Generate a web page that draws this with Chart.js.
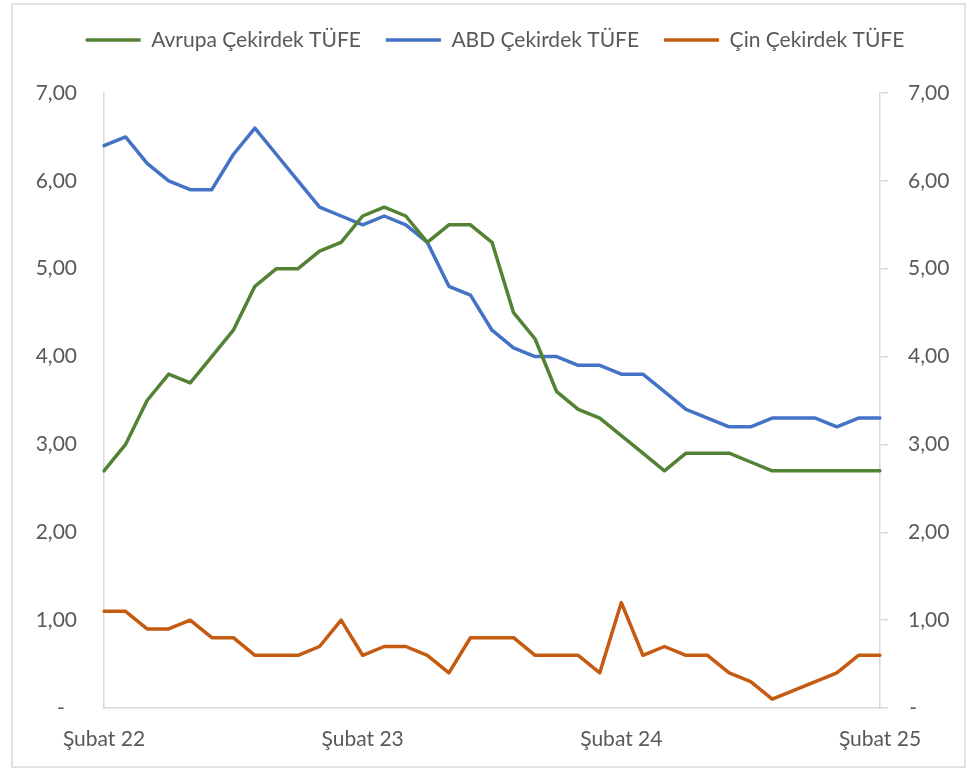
<!DOCTYPE html>
<html>
<head>
<meta charset="utf-8">
<script src="https://cdn.jsdelivr.net/npm/chart.js@4"></script>
<style>
  body { margin: 0; background: #fff; }
</style>
</head>
<body>
<canvas id="chart" width="970" height="769"></canvas>
<script>
var aylar = ["Ocak", "Şubat", "Mart", "Nisan", "Mayıs", "Haziran", "Temmuz", "Ağustos", "Eylül", "Ekim", "Kasım", "Aralık"];
var etiketler = [];
for (var i = 0; i < 37; i++) {
    var m = (1 + i) % 12;
    var y = 22 + Math.floor((1 + i) / 12);
    etiketler.push(aylar[m] + " " + y);
}

var avrupa = [2.7, 3.0, 3.5, 3.8, 3.7, 4.0, 4.3, 4.8, 5.0, 5.0, 5.2, 5.3, 5.6, 5.7, 5.6, 5.3, 5.5, 5.5, 5.3, 4.5,
              4.2, 3.6, 3.4, 3.3, 3.1, 2.9, 2.7, 2.9, 2.9, 2.9, 2.8, 2.7, 2.7, 2.7, 2.7, 2.7, 2.7];
var abd = [6.4, 6.5, 6.2, 6.0, 5.9, 5.9, 6.3, 6.6, 6.3, 6.0, 5.7, 5.6, 5.5, 5.6, 5.5, 5.3, 4.8, 4.7, 4.3, 4.1,
           4.0, 4.0, 3.9, 3.9, 3.8, 3.8, 3.6, 3.4, 3.3, 3.2, 3.2, 3.3, 3.3, 3.3, 3.2, 3.3, 3.3];
var cin = [1.1, 1.1, 0.9, 0.9, 1.0, 0.8, 0.8, 0.6, 0.6, 0.6, 0.7, 1.0, 0.6, 0.7, 0.7, 0.6, 0.4, 0.8, 0.8, 0.8,
           0.6, 0.6, 0.6, 0.4, 1.2, 0.6, 0.7, 0.6, 0.6, 0.4, 0.3, 0.1, 0.2, 0.3, 0.4, 0.6, 0.6];

var yaziRengi = '#595959';
var eksenRengi = '#d9d9d9';
var font = { family: 'Lato', size: 21 };

function solFormat(v) {
    return v === 0 ? '-\u2007' : v.toFixed(2).replace('.', ',');
}
function sagFormat(v) {
    return v === 0 ? '\u200a-' : v.toFixed(2).replace('.', ',');
}

var cerceve = {
    id: 'cerceve',
    beforeDraw: function(chart) {
        var c = chart.ctx;
        c.save();
        c.fillStyle = '#fff';
        c.fillRect(0, 0, chart.width, chart.height);
        c.strokeStyle = '#d9d9d9';
        c.lineWidth = 1.5;
        c.strokeRect(12, 4, 953, 763);
        c.restore();
    }
};

function cizgi(label, data, renk) {
    return {
        label: label,
        data: data,
        borderColor: renk,
        backgroundColor: renk,
        borderWidth: 3.5,
        pointRadius: 0,
        tension: 0,
        borderJoinStyle: 'round',
        borderCapStyle: 'round',
        fill: false
    };
}

var ctx = document.getElementById("chart");
var myChart = new Chart(ctx, {
    type: 'line',
    data: {
        labels: etiketler,
        datasets: [
            cizgi('Avrupa Çekirdek TÜFE', avrupa, '#548235'),
            cizgi('ABD Çekirdek TÜFE', abd, '#4472C4'),
            cizgi('Çin Çekirdek TÜFE', cin, '#C55A11')
        ]
    },
    plugins: [cerceve],
    options: {
        responsive: false,
        animation: false,
        layout: { padding: { top: 4.5, left: 20, right: 0, bottom: 0 } },
        plugins: {
            legend: {
                position: 'top',
                labels: {
                    usePointStyle: true,
                    pointStyle: 'line',
                    pointStyleWidth: 55,
                    padding: 25,
                    color: yaziRengi,
                    font: font
                }
            },
            tooltip: { enabled: false }
        },
        scales: {
            x: {
                offset: false,
                grid: { display: false, drawTicks: false },
                border: { display: true, color: eksenRengi, width: 1.5 },
                ticks: {
                    autoSkip: false,
                    maxRotation: 0,
                    padding: 19,
                    color: yaziRengi,
                    font: font,
                    callback: function(v, i) { return i % 12 === 0 ? etiketler[i] : null; }
                },
                afterFit: function(s) { s.height = 61; }
            },
            x2: {
                position: 'top',
                grid: { display: false, drawTicks: false },
                border: { display: false },
                ticks: { display: false },
                afterFit: function(s) { s.height = 32.5; }
            },
            y: {
                position: 'left',
                min: 0,
                max: 7,
                grid: { display: false, drawTicks: false },
                border: { display: true, color: eksenRengi, width: 1.5 },
                ticks: { stepSize: 1, padding: 27, color: yaziRengi, font: font, callback: solFormat },
                afterFit: function(s) { s.width = 84; }
            },
            y2: {
                position: 'right',
                min: 0,
                max: 7,
                grid: { display: true, drawOnChartArea: false, drawTicks: true, tickLength: 8, color: eksenRengi, lineWidth: 1.5 },
                border: { display: true, color: eksenRengi, width: 1.5 },
                ticks: { stepSize: 1, padding: 20, color: yaziRengi, font: font, callback: sagFormat },
                afterFit: function(s) { s.width = 90; }
            }
        }
    }
});
</script>
</body>
</html>
